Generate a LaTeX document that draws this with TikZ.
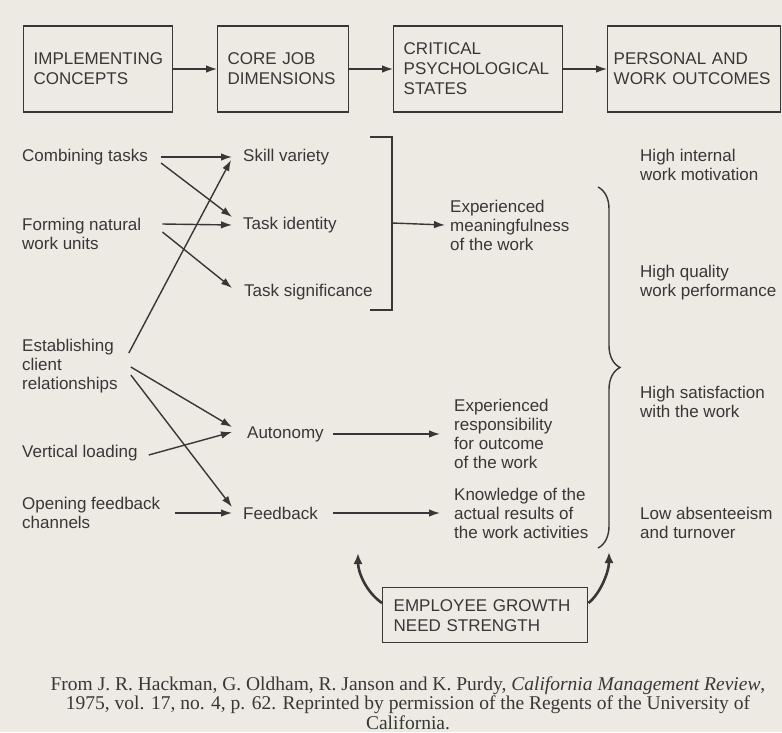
\documentclass[tikz,border=0pt]{standalone}
\usepackage{fontspec}
\setmainfont{Liberation Sans}
\newfontfamily\capfont{Liberation Serif}
\usetikzlibrary{arrows.meta,decorations.pathreplacing}
\definecolor{ink}{RGB}{55,55,55}
\definecolor{paper}{RGB}{236,234,226}
\begin{document}
\begin{tikzpicture}[x=1pt,y=-1pt,
    every node/.style={text=ink},
    stage/.style={draw=ink, line width=1.4pt, minimum height=86pt, inner xsep=10pt,
      align=left, anchor=west, font=\fontsize{17}{20}\selectfont},
    lbl/.style={anchor=west, inner sep=0pt, align=left, font=\fontsize{17}{19}\selectfont},
    link/.style={draw=ink, line width=1.4pt, -{Latex[length=11pt,width=7.5pt]}},
    bigarrow/.style={draw=ink, line width=2.6pt, -{Latex[length=11pt,width=9pt]}}
  ]
  % PAPER
  \useasboundingbox[fill=paper] (0,0) rectangle (782,732);

  % TOP ROW
  \node[stage, text width=129pt] (impl) at (23,69)  {IMPLEMENTING\\CONCEPTS};
  \node[stage, text width=111pt] (core) at (217,69) {CORE JOB\\DIMENSIONS};
  \node[stage, text width=149pt] (crit) at (393,69) {CRITICAL\\PSYCHOLOGICAL\\STATES};
  \node[stage, text width=161pt, inner xsep=6pt] (outc) at (607,69) {PERSONAL AND\\WORK OUTCOMES};

  \draw[link] (impl) -- (core);
  \draw[link] (core) -- (crit);
  \draw[link] (crit) -- (outc);

  % IMPLEMENTING CONCEPTS
  \node[lbl] (comb) at (22,157) {Combining tasks};
  \node[lbl] (form) at (22,234) {Forming natural\\work units};
  \node[lbl] (estab) at (22,366) {Establishing\\client\\relationships};
  \node[lbl] (vert) at (22,453) {Vertical loading};
  \node[lbl] (open) at (22,513) {Opening feedback\\channels};

  % CORE JOB DIMENSIONS
  \node[lbl] (skill) at (243,157) {Skill variety};
  \node[lbl] (ident) at (243,225) {Task identity};
  \node[lbl] (signif) at (244,292) {Task significance};
  \node[lbl] (auto) at (247,434) {Autonomy};
  \node[lbl] (feed) at (243,513) {Feedback};

  % PSYCHOLOGICAL STATES
  \node[lbl] (mean) at (450,225) {Experienced\\meaningfulness\\of the work};
  \node[lbl] (resp) at (454,434) {Experienced\\responsibility\\for outcome\\of the work};
  \node[lbl] (know) at (454,513) {Knowledge of the\\actual results of\\the work activities};

  % OUTCOMES
  \node[lbl] (motiv) at (640,165) {High internal\\work motivation};
  \node[lbl] (perf) at (640,283) {High quality\\work performance};
  \node[lbl] (satis) at (640,402) {High satisfaction\\with the work};
  \node[lbl] (absent) at (640,523) {Low absenteeism\\and turnover};

  % ARROWS
  \draw[link] ([xshift=13pt]comb.east) -- ([xshift=-11pt]skill.west);
  \draw[link] ([xshift=13pt,yshift=-6pt]comb.east) -- ([xshift=-11pt,yshift=8pt]ident.west);
  \draw[link] ([xshift=21pt,yshift=10pt]form.east) -- ([xshift=-11pt]ident.west);
  \draw[link] ([xshift=21pt,yshift=2pt]form.east) -- ([xshift=-12pt,yshift=4pt]signif.west);
  \draw[link] ([xshift=11pt,yshift=13pt]estab.east) -- ([xshift=-12pt,yshift=-3pt]skill.west);
  \draw[link] ([xshift=13pt,yshift=-1pt]estab.east) -- ([xshift=-15pt,yshift=7pt]auto.west);
  \draw[link] ([xshift=13pt,yshift=-9pt]estab.east) -- ([xshift=-11pt,yshift=6pt]feed.west);
  \draw[link] ([xshift=11pt,yshift=-2pt]vert.east) -- ([xshift=-15pt,yshift=2pt]auto.west);
  \draw[link] ([xshift=15pt]open.east) -- ([xshift=-11pt]feed.west);

  % bracket round the first three dimensions
  \draw[ink, line width=1.4pt] (370,137) -| (392,310) -- (370,310);
  \coordinate (brk) at (392,223);
  \draw[link] (brk) -- ([xshift=-5pt]mean.west);
  \draw[link] ([xshift=9pt]auto.east) -- ([xshift=-14pt]resp.west);
  \draw[link] ([xshift=15pt]feed.east) -- ([xshift=-14pt]know.west);

  % brace towards the outcomes
  \draw[ink, line width=1.4pt, decorate, decoration={brace, amplitude=22pt}]
    (598,187) -- (598,548);

  % GROWTH NEED
  \node[draw=ink, line width=1.4pt, minimum height=55pt, text width=183pt, inner xsep=11pt,
    align=left, anchor=north west, font=\fontsize{17}{20}\selectfont] (grow) at (382,587)
    {EMPLOYEE GROWTH\\NEED STRENGTH};
  \coordinate (lgr) at (358,553);
  \coordinate (rgr) at (609,552);
  \draw[bigarrow] ([yshift=-16pt]grow.north west) .. controls (366,592) and (358,572) .. (lgr);
  \draw[bigarrow] ([yshift=-16pt]grow.north east) .. controls (600,594) and (609,572) .. (rgr);

  % SOURCE
  \node[align=center, inner sep=0pt, font=\capfont\fontsize{19.5}{19.5}\selectfont] (src) at (408,703)
    {From J. R. Hackman, G. Oldham, R. Janson and K. Purdy, \textit{California Management Review},\\
     1975, vol. 17, no. 4, p. 62. Reprinted by permission of the Regents of the University of\\
     California.};
\end{tikzpicture}
\end{document}
